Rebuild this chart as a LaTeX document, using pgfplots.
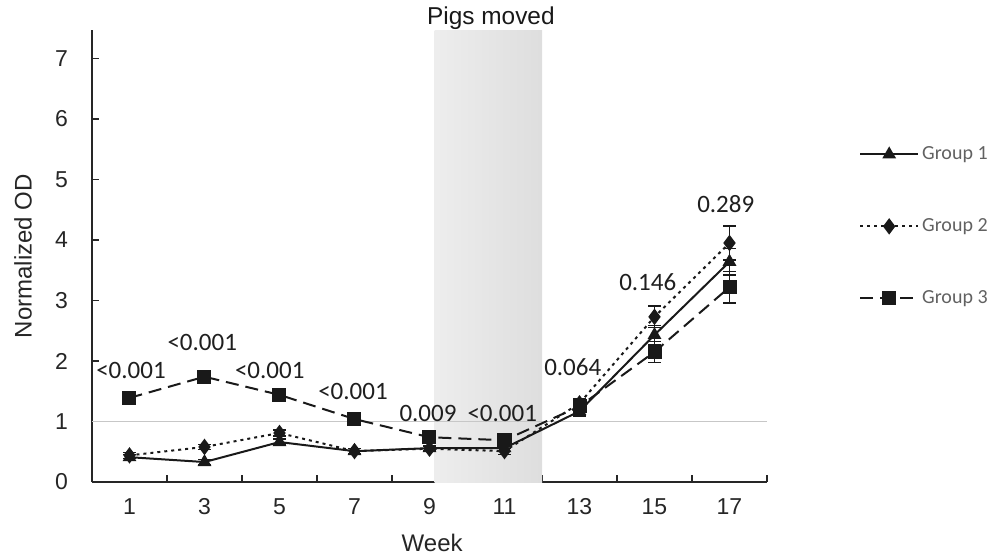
\documentclass[border=0pt]{standalone}
\usepackage{pgfplots}
\pgfplotsset{compat=1.18}
\usepackage{pgfplotstable}
\usepackage{fontspec}
\setmainfont{Liberation Sans}
\newfontfamily\calibri{Carlito}

\pgfplotstableread{
x y e
0 0.41 0.05
1 0.33 0.04
2 0.66 0.05
3 0.51 0.04
4 0.56 0.04
5 0.56 0.05
6 1.17 0.08
7 2.43 0.16
8 3.64 0.22
}\groupone
\pgfplotstableread{
x y e
0 0.44 0.05
1 0.58 0.04
2 0.81 0.05
3 0.51 0.04
4 0.55 0.04
5 0.51 0.05
6 1.30 0.08
7 2.73 0.18
8 3.95 0.28
}\grouptwo
\pgfplotstableread{
x y e
0 1.39 0.10
1 1.74 0.08
2 1.44 0.05
3 1.04 0.05
4 0.74 0.07
5 0.69 0.07
6 1.25 0.08
7 2.15 0.17
8 3.22 0.26
}\groupthree

\begin{document}
\begin{tikzpicture}
\useasboundingbox (-46pt,-38.5pt) rectangle (450.5pt,241pt);
\begin{axis}[
  at={(0,0)}, anchor=south west,
  width=337.5pt, height=226pt, scale only axis,
  xmin=-0.5, xmax=8.5, ymin=0, ymax=7.47,
  clip=false,
  axis x line*=bottom, axis y line*=left,
  axis line style={black!85, line width=0.9pt},
  xtick={0,...,8}, xticklabels={1,3,5,7,9,11,13,15,17},
  major x tick style={draw=none},
  minor xtick={0.5,1.5,...,8.5},
  minor tick length=3.5pt, major tick length=3.5pt,
  ytick={0,...,7},
  tick align=inside,
  tick style={black!85, line width=0.9pt},
  /pgf/number format/assume math mode=true,
  ticklabel style={font=\fontsize{11.5}{13}\selectfont, text=black!85},
  xticklabel style={anchor=base, yshift=-16pt},
  yticklabel style={xshift=-8.5pt},
  xlabel={Week},
  xlabel style={at={(axis description cs:0.504,-0.135)}, anchor=center, font=\fontsize{12}{14}\selectfont, text=black!85},
  ylabel={Normalized OD},
  ylabel style={at={(axis description cs:-0.102,0.5)}, anchor=center, font=\fontsize{12}{14}\selectfont, text=black!85},
  legend style={at={(axis description cs:1.136,0.75)}, anchor=north west, draw=none, fill=none,
    inner sep=0pt, row sep=25pt, font=\calibri\fontsize{10}{12}\selectfont, text=black!62,
    nodes={inner sep=1.5pt}},
  legend cell align=left,
  legend image code/.code={\draw[mark repeat=2,mark phase=2,#1] plot coordinates {(0pt,0pt) (14.5pt,0pt) (29pt,0pt)};},
  error bars/error bar style={solid, line width=0.6pt},
  error bars/error mark options={rotate=90, mark size=3.2pt, line width=0.6pt},
]
\shade[left color=black!7, right color=black!13] (axis cs:4.07,0) rectangle (axis cs:5.5,7.47);
\draw[black!22, line width=0.6pt] (axis cs:-0.5,1) -- (axis cs:8.5,1);

\addplot[black!90, line width=1pt, mark=triangle*, mark size=3pt, mark options={solid},
  error bars/.cd, y dir=both, y explicit] table[x=x, y=y, y error=e] {\groupone};
\addlegendentry{Group 1}
\addplot[black!90, line width=1pt, dash pattern=on 1.5pt off 2pt, mark=diamond*, mark size=3.3pt, mark options={solid},
  error bars/.cd, y dir=both, y explicit] table[x=x, y=y, y error=e] {\grouptwo};
\addlegendentry{Group 2}
\addplot[black!90, line width=1pt, dash pattern=on 6.5pt off 3.5pt, mark=square*, mark size=3pt, mark options={solid},
  error bars/.cd, y dir=both, y explicit] table[x=x, y=y, y error=e] {\groupthree};
\addlegendentry{Group 3}

\begin{scope}[every node/.style={font=\calibri\fontsize{12.5}{14}\selectfont, text=black!88}]
\node at (axis cs:0.02,1.85) {<0.001};
\node at (axis cs:0.97,2.31) {<0.001};
\node at (axis cs:1.87,1.85) {<0.001};
\node at (axis cs:2.98,1.49) {<0.001};
\node at (axis cs:3.98,1.14) {0.009};
\node at (axis cs:4.97,1.14) {<0.001};
\node at (axis cs:5.91,1.90) {0.064};
\node at (axis cs:6.91,3.31) {0.146};
\node at (axis cs:7.95,4.60) {0.289};
\end{scope}
\node[font=\fontsize{12.2}{14}\selectfont, text=black!90] at (axis description cs:0.591,1.027) {Pigs moved};
\end{axis}
\end{tikzpicture}
\end{document}
